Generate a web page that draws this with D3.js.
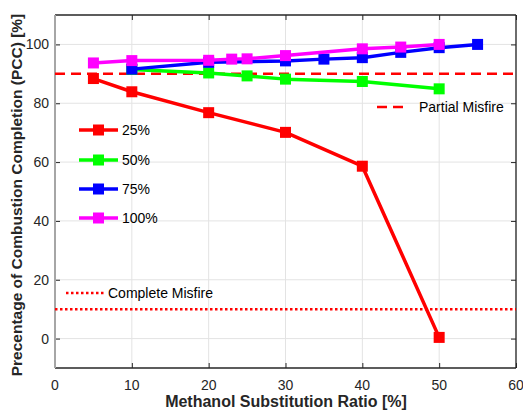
<!DOCTYPE html>
<html>
<head>
<meta charset="utf-8">
<script src="https://cdn.jsdelivr.net/npm/d3@7"></script>
<style>
  body { margin: 0; background: #fff; }
  text { font-family: "Liberation Sans", Arial, sans-serif; }
</style>
</head>
<body>
<svg id="chart" width="523" height="412"></svg>
<script>
// data
const xTicks = [0, 10, 20, 30, 40, 50, 60];
const yTicks = [0, 20, 40, 60, 80, 100];

const x25 = [5, 10, 20, 30, 40, 50];
const y25 = [88.4, 83.9, 76.8, 70.1, 58.6, 0.4];
const x50 = [10, 20, 25, 30, 40, 50];
const y50 = [91.5, 90.3, 89.3, 88.2, 87.4, 84.9];
const x75 = [10, 20, 30, 35, 40, 45, 50, 55];
const y75 = [91.6, 93.9, 94.4, 95.0, 95.5, 97.3, 98.9, 100];
const x100 = [5, 10, 20, 23, 25, 30, 40, 45, 50];
const y100 = [93.7, 94.5, 94.6, 95.0, 95.1, 96.2, 98.5, 99.1, 100];

const seriesNames = ["25%", "50%", "75%", "100%"];
const seriesColors = ["#ff0000", "#00ff00", "#0000ff", "#ff00ff"];
const partialMisfire = 90;
const completeMisfire = 10;

const series = [
  {name: seriesNames[0], color: seriesColors[0], pts: x25.map((v, i) => [v, y25[i]])},
  {name: seriesNames[1], color: seriesColors[1], pts: x50.map((v, i) => [v, y50[i]])},
  {name: seriesNames[2], color: seriesColors[2], pts: x75.map((v, i) => [v, y75[i]])},
  {name: seriesNames[3], color: seriesColors[3], pts: x100.map((v, i) => [v, y100[i]])}
];

let svg = d3.select("#chart");
let pLeft = 55, pRight = 516, pTop = 15, pBottom = 368;

let xScale = d3.scaleLinear().domain([0, 60]).range([pLeft, pRight]);
let yScale = d3.scaleLinear().domain([-10, 110]).range([pBottom, pTop]);

// grid
svg.append("g").selectAll("line")
  .data(xTicks).enter().append("line")
  .attr("x1", d => xScale(d)).attr("x2", d => xScale(d))
  .attr("y1", pTop).attr("y2", pBottom)
  .style("stroke", "#e3e3e3").style("stroke-width", 1);
svg.append("g").selectAll("line")
  .data(yTicks).enter().append("line")
  .attr("x1", pLeft).attr("x2", pRight)
  .attr("y1", d => yScale(d)).attr("y2", d => yScale(d))
  .style("stroke", "#e3e3e3").style("stroke-width", 1);

// axes (ticks inward, like matlab)
let axColor = "#262626";
svg.append("g").attr("transform", `translate(0,${pBottom})`)
  .call(d3.axisTop(xScale).tickValues(xTicks).tickSize(5).tickFormat(""))
  .call(g => g.select(".domain").remove())
  .selectAll("line").style("stroke", axColor);
svg.append("g").attr("transform", `translate(0,${pTop})`)
  .call(d3.axisBottom(xScale).tickValues(xTicks).tickSize(5).tickFormat(""))
  .call(g => g.select(".domain").remove())
  .selectAll("line").style("stroke", axColor);
svg.append("g").attr("transform", `translate(${pLeft},0)`)
  .call(d3.axisRight(yScale).tickValues(yTicks).tickSize(5).tickFormat(""))
  .call(g => g.select(".domain").remove())
  .selectAll("line").style("stroke", axColor);
svg.append("g").attr("transform", `translate(${pRight},0)`)
  .call(d3.axisLeft(yScale).tickValues(yTicks).tickSize(5).tickFormat(""))
  .call(g => g.select(".domain").remove())
  .selectAll("line").style("stroke", axColor);

// tick labels
svg.append("g").selectAll("text")
  .data(xTicks).enter().append("text")
  .attr("x", d => xScale(d)).attr("y", 390)
  .attr("text-anchor", "middle")
  .style("font-size", "14px").style("fill", axColor)
  .text(d => d);
svg.append("g").selectAll("text")
  .data(yTicks).enter().append("text")
  .attr("x", 49).attr("y", d => yScale(d) + 5)
  .attr("text-anchor", "end")
  .style("font-size", "14px").style("fill", axColor)
  .text(d => d);

// box
svg.append("line").attr("x1", pLeft).attr("x2", pRight).attr("y1", pTop).attr("y2", pTop)
  .style("stroke", axColor).style("stroke-width", 1.3);
svg.append("line").attr("x1", pLeft).attr("x2", pRight).attr("y1", pBottom).attr("y2", pBottom)
  .style("stroke", axColor).style("stroke-width", 1.3);
svg.append("line").attr("x1", pRight).attr("x2", pRight).attr("y1", pTop).attr("y2", pBottom)
  .style("stroke", axColor).style("stroke-width", 1.3);
svg.append("line").attr("x1", pLeft).attr("x2", pLeft).attr("y1", pTop).attr("y2", pBottom)
  .style("stroke", "#a6a6a6").style("stroke-width", 2);

// misfire reference lines
svg.append("line")
  .attr("x1", pLeft).attr("x2", pRight)
  .attr("y1", yScale(partialMisfire)).attr("y2", yScale(partialMisfire))
  .style("stroke", "#ff0000").style("stroke-width", 2.5).style("stroke-dasharray", "10,6");
svg.append("line")
  .attr("x1", pLeft).attr("x2", pRight)
  .attr("y1", yScale(completeMisfire)).attr("y2", yScale(completeMisfire))
  .style("stroke", "#ff0000").style("stroke-width", 2.5).style("stroke-dasharray", "2.5,2.5");

// series
let line = d3.line().x(d => xScale(d[0])).y(d => yScale(d[1]));
let ms = 11;
series.forEach(s => {
  let g = svg.append("g");
  g.append("path").datum(s.pts)
    .attr("d", line)
    .attr("fill", "none")
    .style("stroke", s.color).style("stroke-width", 3.5)
    .style("stroke-linejoin", "round");
  g.selectAll("rect").data(s.pts).enter().append("rect")
    .attr("x", d => xScale(d[0]) - ms / 2)
    .attr("y", d => yScale(d[1]) - ms / 2)
    .attr("width", ms).attr("height", ms)
    .attr("fill", s.color);
});

// legend for series
let legY = [130, 160, 189, 218];
series.forEach((s, i) => {
  let g = svg.append("g");
  g.append("line").attr("x1", 79).attr("x2", 118)
    .attr("y1", legY[i]).attr("y2", legY[i])
    .style("stroke", s.color).style("stroke-width", 3.5);
  g.append("rect").attr("x", 98.5 - ms / 2).attr("y", legY[i] - ms / 2)
    .attr("width", ms).attr("height", ms).attr("fill", s.color);
  g.append("text").attr("x", 122).attr("y", legY[i] + 5)
    .style("font-size", "14px").style("fill", "#000")
    .text(s.name);
});

// misfire legends
svg.append("line").attr("x1", 377).attr("x2", 408).attr("y1", 107).attr("y2", 107)
  .style("stroke", "#ff0000").style("stroke-width", 2.5).style("stroke-dasharray", "10,6");
svg.append("text").attr("x", 419).attr("y", 112)
  .style("font-size", "14px").style("fill", "#000").text("Partial Misfire");
svg.append("line").attr("x1", 66).attr("x2", 104).attr("y1", 293).attr("y2", 293)
  .style("stroke", "#ff0000").style("stroke-width", 2.5).style("stroke-dasharray", "2.5,2.5");
svg.append("text").attr("x", 108).attr("y", 298)
  .style("font-size", "14px").style("fill", "#000").text("Complete Misfire");

// axis titles
svg.append("text").attr("x", 286).attr("y", 407)
  .attr("text-anchor", "middle")
  .style("font-size", "16px").style("font-weight", "bold").style("fill", axColor)
  .text("Methanol Substitution Ratio [%]");
svg.append("text")
  .attr("transform", `translate(22,195) rotate(-90)`)
  .attr("text-anchor", "middle")
  .style("font-size", "15.5px").style("font-weight", "bold").style("fill", axColor)
  .text("Precentage of Combustion Completion (PCC) [%]");
</script>
</body>
</html>
